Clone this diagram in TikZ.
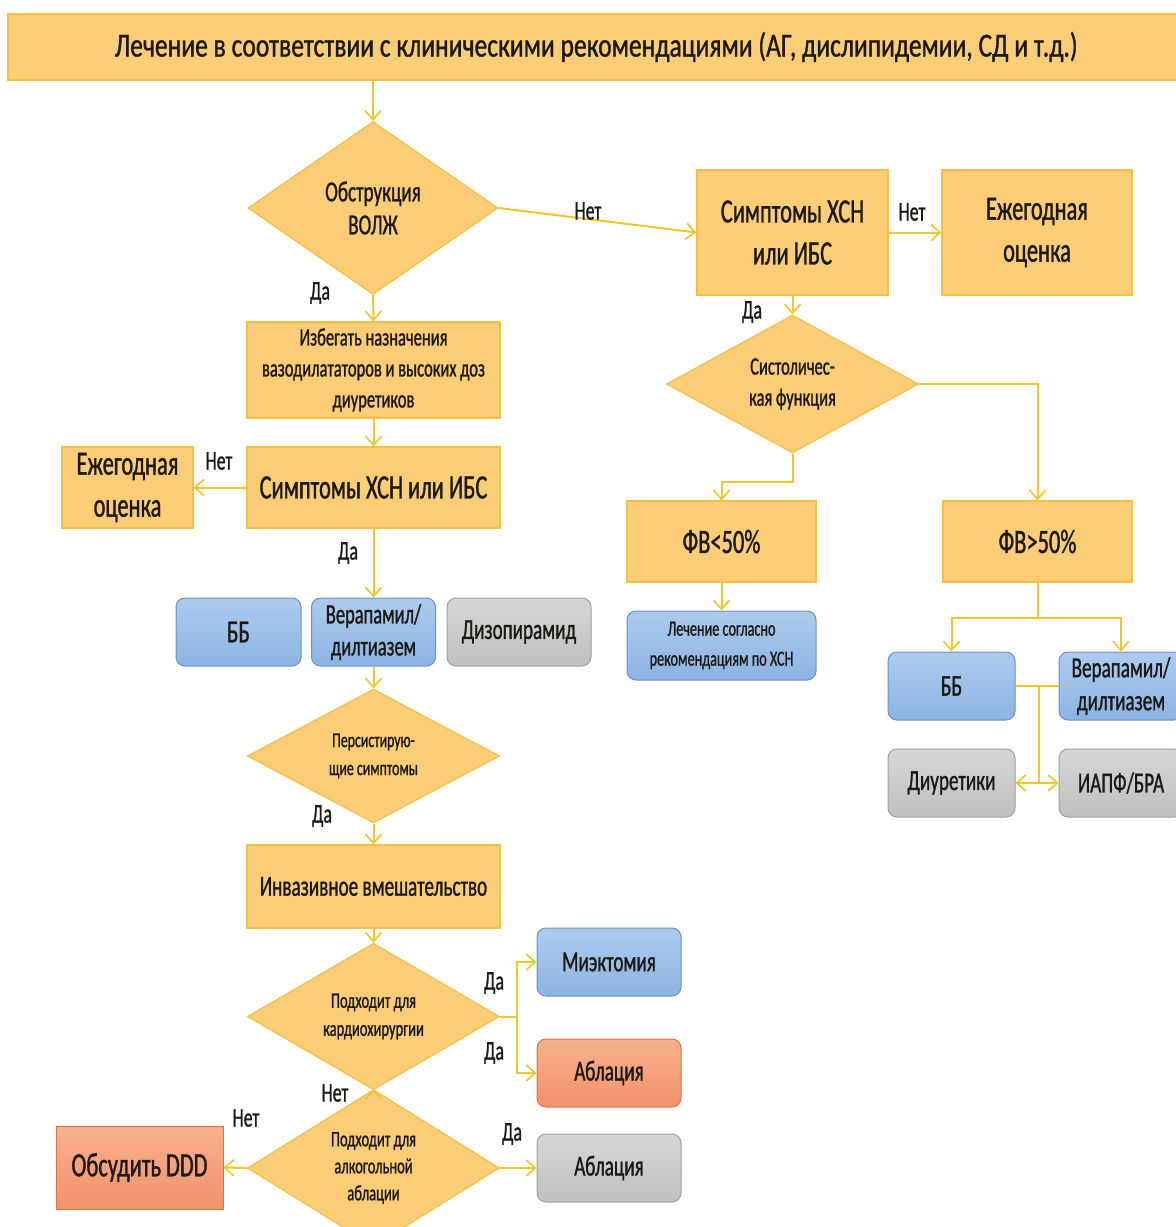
\documentclass[tikz,border=0pt]{standalone}
\usepackage{fontspec}
\setmainfont{Carlito}[FakeStretch=0.66,FakeBold=1]
\newfontfamily\bannerfont{Carlito}[FakeStretch=0.76,FakeBold=1]
\usetikzlibrary{arrows.meta,shapes.geometric,calc}

\definecolor{yfill}{RGB}{250,205,118}
\definecolor{yline}{RGB}{242,192,72}
\definecolor{conn}{RGB}{236,200,46}
\definecolor{btop}{RGB}{172,203,238}
\definecolor{bbot}{RGB}{140,180,226}
\definecolor{bline}{RGB}{105,145,195}
\definecolor{gtop}{RGB}{214,214,214}
\definecolor{gbot}{RGB}{192,192,192}
\definecolor{gline}{RGB}{160,160,160}
\definecolor{rtop}{RGB}{248,176,142}
\definecolor{rbot}{RGB}{242,146,106}
\definecolor{rline}{RGB}{222,112,78}
\definecolor{ink}{RGB}{28,24,20}

\newcommand\fsz[2]{\fontsize{#1}{#2}\selectfont}

\tikzset{
  every node/.style={text=ink, inner sep=0pt, align=center},
  ybox/.style={rectangle, fill=yfill, draw=yline, line width=1.2pt},
  bbox/.style={rectangle, rounded corners=9pt, top color=btop, bottom color=bbot, draw=bline, line width=1pt},
  gbox/.style={rectangle, rounded corners=9pt, top color=gtop, bottom color=gbot, draw=gline, line width=1pt},
  rbox/.style={rectangle, rounded corners=9pt, top color=rtop, bottom color=rbot, draw=rline, line width=1pt},
  sqrbox/.style={rectangle, top color=rtop, bottom color=rbot, draw=rline, line width=1pt},
  dec/.style={diamond, fill=yfill, draw=yline, line width=1.2pt},
  sz/.style 2 args={minimum width=#1, minimum height=#2},
  conline/.style={draw=conn, line width=2pt},
  arr/.style={conline, -{Straight Barb[length=9pt,width=16pt,line width=1.7pt]}},
  lbl/.style={font=\fsz{27}{30}},
}

\begin{document}
\begin{tikzpicture}[x=1pt,y=-1pt]
\useasboundingbox (0,0) rectangle (1176,1227);
\fill[white] (0,0) rectangle (1176,1227);

% top banner
\node[ybox, sz={1176pt}{66pt}, font=\bannerfont\fsz{33.6}{40}] (title) at (596,47)
  {Лечение в соответствии с клиническими рекомендациями (АГ, дислипидемии, СД и т.д.)};

% left branch
\node[dec, sz={250pt}{173pt}, font=\fsz{29}{33}] (d1) at (373,208) {Обструкция\\ВОЛЖ};
\node[ybox, sz={253pt}{96pt}, font=\fsz{25}{31}] (izb) at (373.5,370)
  {Избегать назначения\\вазодилататоров и высоких доз\\диуретиков};
\node[ybox, sz={253pt}{81pt}, font=\fsz{34}{40}] (s2) at (373.5,487.5) {Симптомы ХСН или ИБС};
\node[ybox, sz={131pt}{81pt}, font=\fsz{34}{42}] (e2) at (127.5,487.5) {Ежегодная\\оценка};
\node[bbox, sz={125pt}{68pt}, font=\fsz{32}{40}] (bb1) at (238.5,632) {ББ};
\node[bbox, sz={124pt}{68pt}, font=\fsz{28}{32}] (ver1) at (373.5,632) {Верапамил/\\дилтиазем};
\node[gbox, sz={144pt}{68pt}, font=\fsz{29}{36}] (diz) at (519,632) {Дизопирамид};
\node[dec, sz={252pt}{124pt}, font=\fsz{21}{28}] (d3) at (373.5,756) {Персистирую-\\щие симптомы};
\node[ybox, sz={253pt}{83pt}, font=\fsz{29}{34}] (inv) at (373.5,886.5) {Инвазивное вмешательство};
\node[dec, sz={252pt}{123pt}, font=\fsz{22}{28}] (d4) at (373.5,1016.5) {Подходит для\\кардиохирургии};
\node[bbox, sz={144pt}{68pt}, font=\fsz{29}{34}] (mie) at (609,962) {Миэктомия};
\node[rbox, sz={144pt}{68pt}, font=\fsz{29}{34}] (abl1) at (609,1073) {Аблация};
\node[dec, sz={252pt}{120pt}, font=\fsz{22}{27}] (d5) at (373.5,1168) {Подходит для\\алкогольной\\аблации};
\node[sqrbox, sz={167pt}{83pt}, font=\fsz{34}{36}] (obs) at (139.5,1167.5) {Обсудить DDD};
\node[gbox, sz={144pt}{68pt}, font=\fsz{29}{34}] (abl2) at (609,1168) {Аблация};

% right branch
\node[ybox, sz={191pt}{125pt}, font=\fsz{34}{42}] (s1) at (792.5,232.5) {Симптомы ХСН\\или ИБС};
\node[ybox, sz={190pt}{125pt}, font=\fsz{34}{42}] (e1) at (1037,232.5) {Ежегодная\\оценка};
\node[dec, sz={252pt}{122pt}, font=\fsz{25}{31}] (d2) at (792.5,384) {Систоличес-\\кая функция};
\node[ybox, sz={189pt}{81pt}, font=\fsz{34}{36}] (fv1) at (721.5,541.5) {ФВ<50\%};
\node[ybox, sz={189pt}{81pt}, font=\fsz{34}{36}] (fv2) at (1037.5,541.5) {ФВ>50\%};
\node[bbox, sz={189pt}{69pt}, font=\fsz{21.5}{30}] (lech) at (721.5,645.5) {Лечение согласно\\рекомендациям по ХСН};
\node[bbox, sz={127pt}{68pt}, font=\fsz{30}{34}] (bb2) at (951.5,686) {ББ};
\node[bbox, sz={124pt}{68pt}, font=\fsz{29}{33}] (ver2) at (1121,686) {Верапамил/\\дилтиазем};
\node[gbox, sz={127pt}{68pt}, font=\fsz{29}{34}] (diur) at (951.5,783) {Диуретики};
\node[gbox, sz={124pt}{68pt}, font=\fsz{29}{34}] (iapf) at (1121,783) {ИАПФ/БРА};

% connectors, left branch
\draw[arr] (title.south -| d1.north) -- (d1.north);
\draw[arr] (d1.south) -- (izb.north);
\draw[arr] (izb.south) -- (s2.north);
\draw[arr] (s2.west) -- (e2.east);
\draw[arr] (s2.south) -- (ver1.north);
\draw[arr] (ver1.south) -- (d3.north);
\draw[arr] (d3.south) -- (inv.north);
\draw[arr] (inv.south) -- (d4.north);
\draw[arr] (d4.east) -- ++(17,0) |- (mie.west);
\draw[arr] (d4.east) -- ++(17,0) |- (abl1.west);
\draw[arr] (d4.south) -- (d5.north);
\draw[arr] (d5.west) -- (obs.east);
\draw[arr] (d5.east) -- (abl2.west);

% connectors, right branch
\draw[arr] (d1.east) -- (s1.west);
\draw[arr] (s1.east) -- (e1.west);
\draw[arr] (s1.south) -- (d2.north);
\draw[arr] (d2.south) -- ++(0,28) -| (fv1.north);
\draw[arr] (d2.east) -| (fv2.north);
\draw[arr] (fv1.south) -- (lech.north);
\draw[arr] (fv2.south) -- ++(0,35) -| (bb2.north);
\draw[arr] (fv2.south) -- ++(0,35) -| (ver2.north);
\draw[conline] (bb2.east) -- (ver2.west);
\coordinate (hub) at ($(bb2.east)!0.55!(ver2.west)$);
\draw[conline] (hub) -- (hub |- diur.east) coordinate (hubb);
\draw[arr] (hubb) -- (diur.east);
\draw[arr] (hubb) -- (iapf.west);

% branch labels
\node[lbl] (l1) at (320,293) {Да};
\node[lbl] (l2) at (588,211) {Нет};
\node[lbl] (l3) at (912,212) {Нет};
\node[lbl] (l4) at (752,312) {Да};
\node[lbl] (l5) at (219,461) {Нет};
\node[lbl] (l6) at (348,553) {Да};
\node[lbl] (l7) at (322,816) {Да};
\node[lbl] (l8) at (494,983) {Да};
\node[lbl] (l9) at (494,1053) {Да};
\node[lbl] (l10) at (335,1093) {Нет};
\node[lbl] (l11) at (246,1118) {Нет};
\node[lbl] (l12) at (512,1134) {Да};
\end{tikzpicture}
\end{document}
